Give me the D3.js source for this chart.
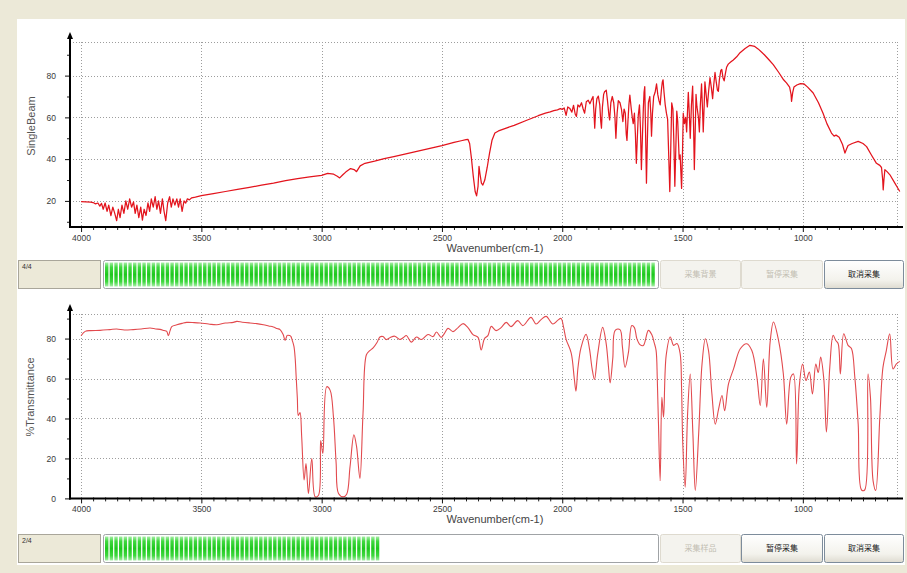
<!DOCTYPE html>
<html>
<head>
<meta charset="utf-8">
<script src="https://cdn.jsdelivr.net/npm/d3@7/dist/d3.min.js"></script>
<style>
  html, body { margin: 0; padding: 0; background: #ece9d8; }
  svg { display: block; }
</style>
</head>
<body>
<svg id="chart" width="907" height="573"></svg>
<script>
// ---- data ----------------------------------------------------------------
const wavenumberTicks = [4000, 3500, 3000, 2500, 2000, 1500, 1000];
const singleBeamTicks = [20, 40, 60, 80];
const transmittanceTicks = [0, 20, 40, 60, 80];

// background single-beam spectrum: [wavenumber, value]
const singleBeam = [
  [4000,19.6],[3980,19.5],[3960,19.4],[3950,19.2],[3940,18.6],[3930,19],[3922,17.5],[3915,18.8],
  [3908,16],[3900,19],[3892,15],[3885,18],[3876,13],[3868,17],[3860,14],[3852,10.5],[3845,16],
  [3838,12],[3830,18],[3822,14],[3814,20],[3806,16],[3798,21],[3790,17],[3782,19.5],[3775,14],
  [3768,18],[3760,12],[3752,17],[3745,10.8],[3738,16],[3730,13],[3722,19],[3715,15],[3708,21],
  [3700,17],[3692,22],[3685,16],[3678,20],[3670,14],[3662,21],[3655,15],[3648,10.5],[3640,19],
  [3632,22],[3625,17],[3618,21],[3610,18],[3602,21],[3595,17],[3588,21],[3580,15],[3572,20],
  [3565,19],[3558,21],[3550,20.5],[3540,21.5],[3525,21.8],[3500,22.5],[3450,23.5],[3400,24.5],
  [3350,25.5],[3300,26.5],[3250,27.5],[3200,28.5],[3150,29.7],[3100,30.7],[3050,31.5],[3000,32.2],
  [2975,33.2],[2950,32.8],[2935,31.8],[2925,31],[2912,32.5],[2900,33.8],[2880,35.5],[2865,35],
  [2855,34],[2840,36.8],[2820,38],[2780,39],[2740,40.2],[2700,41.2],[2650,42.5],[2600,43.8],
  [2550,45.2],[2500,46.5],[2450,48],[2420,48.8],[2400,49.3],[2392,49.5],[2385,47.5],[2378,41],
  [2370,32],[2362,24.5],[2356,22.4],[2350,27],[2346,36.5],[2342,33],[2336,28.5],[2330,27.6],
  [2322,30],[2312,36],[2302,43],[2292,49],[2280,52.5],[2265,53.5],[2230,55],[2200,56.2],
  [2150,58.5],[2100,60.8],[2070,62],[2050,62.6],[2035,63.2],[2020,63.6],[2008,64.2],[2000,63.8],
  [1992,64.5],[1984,61],[1977,65],[1968,64.2],[1960,62.5],[1953,65.8],[1946,61.5],[1941,60.5],
  [1935,66],[1928,65],[1920,67],[1913,64],[1907,62],[1900,67.5],[1892,68.2],[1885,66.5],
  [1878,68.5],[1872,70],[1868,62],[1865,54.8],[1861,64],[1856,69],[1850,70.2],[1844,66],
  [1840,58],[1837,54.8],[1833,65],[1828,71],[1824,72.3],[1817,73],[1812,68],[1806,61],
  [1803,58.8],[1798,67],[1792,70],[1786,67],[1781,60],[1777,50],[1772,62],[1767,68],[1760,67],
  [1754,64],[1748,58],[1743,64],[1738,62],[1734,52],[1731,49],[1727,58],[1723,66],[1719,70.7],
  [1714,65],[1709,60],[1705,57],[1700,62],[1696,52],[1692,38],[1688,50],[1684,61],[1679,66],
  [1675,55],[1671,35],[1667,50],[1663,64],[1660,72],[1657,74.7],[1654,55],[1650,28.5],[1646,50],
  [1642,67],[1636,70],[1632,62],[1629,51],[1625,62],[1620,70],[1614,72],[1608,76],[1603,71],
  [1598,68],[1593,66],[1588,73],[1584,77],[1581,78],[1577,72],[1572,66],[1567,62],[1562,59],
  [1557,40],[1553,24.5],[1549,45],[1545,67],[1540,64],[1536,48],[1532,27],[1528,45],[1524,63],
  [1520,58],[1514,40],[1510,42],[1507,34],[1504,26],[1500,44],[1497,62],[1492,57],[1487,60],
  [1483,53],[1479,64],[1476,72],[1472,62],[1468,50],[1463,66],[1458,75],[1454,55],[1451,35],
  [1447,55],[1444,71],[1440,65],[1434,60],[1430,53],[1426,66],[1421,76],[1417,64],[1414,53],
  [1410,66],[1407,77],[1402,71],[1397,65],[1392,72],[1386,79],[1380,74],[1375,69],[1370,76],
  [1365,81.5],[1360,77],[1355,73],[1351,72.5],[1347,78],[1341,82.5],[1337,83],[1332,79],
  [1327,77.5],[1322,81],[1317,84],[1310,85.5],[1300,86.5],[1289,87.5],[1275,89],[1261,91],
  [1240,93],[1220,94.5],[1200,94],[1186,92.8],[1160,90],[1140,87.5],[1123,85.3],[1100,81.5],
  [1080,78],[1068,76.5],[1055,74.5],[1049,71],[1047,67.7],[1042,72],[1037,74.5],[1025,75.5],
  [1010,76.2],[995,76],[980,74.5],[957,71.7],[935,67],[916,62],[900,57],[881,52.5],[870,51],
  [862,51.5],[849,50.5],[835,47],[825,42.9],[818,45],[812,46.5],[795,47.5],[770,48.5],[750,47.5],
  [735,46],[715,42],[694,38],[680,37],[673,36],[668,30],[666,25.3],[663,30],[659,35],[650,34],
  [638,32.5],[620,29],[610,27],[597,24.5]
];

// sample transmittance spectrum: [wavenumber, %T]
const transmittance = [
  [4000,81.4],[3983,83.6],[3960,84],[3921,84.1],[3880,84.5],[3852,84.8],[3820,84.3],[3783,84.5],
  [3750,84.8],[3713,85.3],[3690,84.8],[3672,84.6],[3655,84],[3644,83.6],[3637,81.4],[3630,84],
  [3623,86],[3602,86.9],[3580,87.6],[3561,88.1],[3530,88],[3505,87.8],[3470,87.3],[3436,86.9],
  [3400,87.8],[3367,88.1],[3353,88.6],[3330,88.2],[3298,87.8],[3270,87.5],[3242,86.9],[3220,86.3],
  [3201,85.8],[3185,85],[3173,84.5],[3160,82],[3152,79.1],[3147,80.5],[3143,81.6],[3133,81.5],
  [3128,81.1],[3122,79],[3115,76],[3110,70],[3106,61],[3101,50],[3097,41.5],[3090,43],
  [3083,30.9],[3073,9.2],[3065,17.5],[3055,2.5],[3041,20],[3027,0.8],[3013,1.6],[3004,29],
  [2995,22.5],[2979,55.9],[2965,54.2],[2951,40.8],[2940,18],[2930,2.5],[2910,0.8],[2896,2.1],
  [2882,15.9],[2866,31.8],[2855,26],[2841,10],[2828,42.7],[2814,71.9],[2800,74],[2786,75.3],
  [2770,78],[2758,80.8],[2745,81],[2731,79.5],[2715,80.5],[2696,81.2],[2675,79.5],[2660,80.5],
  [2648,81.5],[2627,78.2],[2606,80.8],[2586,79.5],[2558,82],[2537,81],[2523,83.3],[2503,80.6],
  [2490,82.5],[2475,85.1],[2454,83.5],[2433,85.5],[2412,87.5],[2392,85.5],[2371,82],[2350,80.6],
  [2337,74.3],[2323,80],[2309,81.5],[2295,86.1],[2275,84],[2254,85.5],[2233,88.1],[2213,86],
  [2185,89],[2164,86.5],[2130,90.6],[2109,87.3],[2088,89.5],[2067,91.1],[2039,87.3],[2020,89],
  [2005,90.1],[1995,86],[1984,79.6],[1963,72.9],[1950,60],[1943,53.7],[1935,65],[1922,75.5],
  [1901,82.1],[1887,75],[1876,65],[1866,59.5],[1853,72],[1832,85.6],[1818,78],[1808,66],
  [1801,57.8],[1790,70],[1780,84.1],[1760,84.5],[1750,76],[1739,65.6],[1725,73],[1711,86.5],
  [1700,85.5],[1690,80],[1677,77],[1663,76.5],[1642,84.1],[1628,82],[1618,78],[1610,74.1],
  [1605,60],[1600,37.2],[1593,8.8],[1586,50.6],[1579,40.6],[1568,71.6],[1551,80.8],[1537,76.6],
  [1523,77.5],[1510,72.5],[1504,55],[1499,27.4],[1489,5.6],[1479,42.3],[1468,62.3],[1457,32.4],
  [1447,4],[1433,32.4],[1419,67.3],[1405,79.9],[1392,74],[1378,52.3],[1364,37.2],[1350,44.8],
  [1336,51.5],[1325,43.9],[1309,57.3],[1288,64.8],[1260,74.9],[1233,77.4],[1212,74],[1191,60.7],
  [1177,46.5],[1164,69.9],[1150,45.6],[1136,78.2],[1122,88.3],[1101,79.1],[1081,62.3],[1067,37.2],
  [1050,60.7],[1039,62.3],[1026,17.2],[1015,55.7],[1001,67.3],[987,59],[973,63.2],[960,52.3],
  [946,67.3],[936,63],[926,70.7],[913,60],[902,33.2],[888,65.6],[874,81.6],[863,79],[853,77.4],
  [844,62.3],[830,82.4],[812,76.6],[798,75],[784,60.7],[770,37.2],[756,4.2],[743,4.2],[729,62.3],
  [719,50.6],[708,8.8],[697,4],[680,40.6],[667,65.6],[653,74],[639,82.4],[625,64.8],[611,67.3],
  [597,68.6]
];

// scan status rows
const scanLabels = ["4/4", "2/4"];
const scanProgress = [1.0, 0.5];
const backgroundButtons = ["采集背景", "暂停采集", "取消采集"];
const backgroundButtonsEnabled = [false, false, true];
const sampleButtons = ["采集样品", "暂停采集", "取消采集"];
const sampleButtonsEnabled = [false, true, true];

// ---- drawing -------------------------------------------------------------
const svg = d3.select("#chart");
const LATIN = "'Liberation Sans', Arial, sans-serif";
const CJK = "'Noto Sans CJK SC', sans-serif";

const defs = svg.append("defs");
const gGreen = defs.append("linearGradient").attr("id", "greenBlock")
  .attr("x1", 0).attr("y1", 0).attr("x2", 0).attr("y2", 1);
[[0, "#a8eea8"], [0.2, "#3fd83f"], [0.5, "#1ec81e"], [0.8, "#3fd83f"], [1, "#a8eea8"]]
  .forEach(([o, c]) => gGreen.append("stop").attr("offset", o).attr("stop-color", c));
const gBtn = defs.append("linearGradient").attr("id", "btnFace")
  .attr("x1", 0).attr("y1", 0).attr("x2", 0).attr("y2", 1);
[[0, "#ffffff"], [0.7, "#f3f2ec"], [1, "#dedbd0"]]
  .forEach(([o, c]) => gBtn.append("stop").attr("offset", o).attr("stop-color", c));

// window body
svg.append("rect").attr("x", 0).attr("y", 0).attr("width", 907).attr("height", 573).attr("fill", "#ece9d8");
svg.append("rect").attr("x", 17).attr("y", 19).attr("width", 888).attr("height", 546).attr("fill", "#ffffff");

const plotLeft = 70, plotRight = 897, axisRight = 903;
const x = d3.scaleLinear().domain([4046, 592]).range([plotLeft, 901]);

function drawSpectrum(cfg) {
  const g = svg.append("g");
  const y = d3.scaleLinear().domain(cfg.yDomain).range([cfg.axisY, cfg.plotTop]);

  // dotted grid + frame
  const grid = g.append("g").attr("stroke", "#9d9d9d").attr("stroke-width", 1)
    .attr("stroke-dasharray", "1,2").attr("fill", "none");
  wavenumberTicks.forEach(w => {
    grid.append("line").attr("x1", Math.round(x(w)) + 0.5).attr("x2", Math.round(x(w)) + 0.5)
      .attr("y1", cfg.plotTop).attr("y2", cfg.axisY);
  });
  cfg.ticks.filter(v => v > cfg.yDomain[0]).forEach(v => {
    grid.append("line").attr("x1", plotLeft).attr("x2", plotRight)
      .attr("y1", Math.round(y(v)) + 0.5).attr("y2", Math.round(y(v)) + 0.5);
  });
  grid.append("line").attr("x1", plotLeft).attr("x2", plotRight)
    .attr("y1", cfg.plotTop + 0.5).attr("y2", cfg.plotTop + 0.5);
  grid.append("line").attr("x1", plotRight + 0.5).attr("x2", plotRight + 0.5)
    .attr("y1", cfg.plotTop).attr("y2", cfg.axisY);

  // spectrum
  const line = d3.line().x(d => x(d[0])).y(d => y(d[1])).curve(cfg.curve);
  g.append("path").datum(cfg.data).attr("d", line)
    .attr("fill", "none").attr("stroke", cfg.color).attr("stroke-width", cfg.width)
    .attr("stroke-linejoin", "round");

  // x axis: minor ticks then major ticks with labels
  const minor = d3.range(650, 4001, 50).filter(w => !wavenumberTicks.includes(w));
  const xMinor = g.append("g").attr("transform", `translate(0,${cfg.axisY})`)
    .call(d3.axisBottom(x).tickValues(minor).tickSize(3).tickSizeOuter(0).tickFormat(""));
  xMinor.select(".domain").remove();
  xMinor.selectAll("line").attr("stroke", "#222").attr("y1", -1);
  const xAxis = g.append("g").attr("transform", `translate(0,${cfg.axisY})`)
    .call(d3.axisBottom(x).tickValues(wavenumberTicks).tickSize(5).tickSizeOuter(0).tickPadding(3)
      .tickFormat(d3.format("d")));
  xAxis.select(".domain").remove();
  xAxis.selectAll("line").attr("stroke", "#111");
  xAxis.selectAll("text").attr("font-family", LATIN).attr("font-size", 8.5).attr("fill", "#3a3a3a");
  g.append("line").attr("x1", plotLeft - 1).attr("x2", axisRight)
    .attr("y1", cfg.axisY).attr("y2", cfg.axisY).attr("stroke", "#000").attr("stroke-width", 2);

  // y axis
  const yMinorVals = d3.range(10, cfg.yDomain[1], 20).filter(v => v > cfg.yDomain[0]);
  const yMinor = g.append("g").attr("transform", `translate(${plotLeft},0)`)
    .call(d3.axisLeft(y).tickValues(yMinorVals).tickSize(3).tickSizeOuter(0).tickFormat(""));
  yMinor.select(".domain").remove();
  yMinor.selectAll("line").attr("stroke", "#222");
  const yAxis = g.append("g").attr("transform", `translate(${plotLeft},0)`)
    .call(d3.axisLeft(y).tickValues(cfg.ticks).tickSize(5).tickSizeOuter(0).tickPadding(9)
      .tickFormat(d3.format("d")));
  yAxis.select(".domain").remove();
  yAxis.selectAll("line").attr("stroke", "#111");
  yAxis.selectAll("text").attr("font-family", LATIN).attr("font-size", 8.5).attr("fill", "#3a3a3a");
  g.append("line").attr("x1", plotLeft).attr("x2", plotLeft)
    .attr("y1", cfg.plotTop - 5).attr("y2", cfg.axisY + 1).attr("stroke", "#000").attr("stroke-width", 2);
  g.append("path")
    .attr("d", `M${plotLeft},${cfg.plotTop - 10} L${plotLeft - 3},${cfg.plotTop - 3} L${plotLeft + 3},${cfg.plotTop - 3} Z`)
    .attr("fill", "#000");

  // axis titles
  g.append("text").attr("x", 495).attr("y", cfg.axisY + 22).attr("text-anchor", "middle")
    .attr("dominant-baseline", "middle")
    .attr("font-family", LATIN).attr("font-size", 11).attr("fill", "#444").text("Wavenumber(cm-1)");
  g.append("text").attr("transform", `translate(${cfg.titleX},${cfg.titleY}) rotate(-90)`)
    .attr("text-anchor", "middle").attr("dominant-baseline", "middle")
    .attr("font-family", LATIN).attr("font-size", 11).attr("fill", "#555").text(cfg.title);
}

drawSpectrum({
  data: singleBeam, ticks: singleBeamTicks, yDomain: [7.5, 96.1],
  axisY: 227, plotTop: 42, color: "#e3141d", width: 1.25, curve: d3.curveLinear,
  title: "SingleBeam", titleX: 32, titleY: 126
});
drawSpectrum({
  data: transmittance, ticks: transmittanceTicks, yDomain: [0, 92.3],
  axisY: 498.4, plotTop: 314, color: "#e24a4e", width: 1.1, curve: d3.curveCatmullRom.alpha(0.5),
  title: "%Transmittance", titleX: 31, titleY: 397
});

// scan status rows: counter, progress bar, buttons
function drawStatusRow(top, label, progress, buttons, enabled) {
  const h = 28;
  const g = svg.append("g");
  g.append("rect").attr("x", 18.5).attr("y", top + 0.5).attr("width", 82).attr("height", h)
    .attr("fill", "#ece9d8").attr("stroke", "#a9a69a");
  g.append("text").attr("x", 22).attr("y", top + 9).attr("font-family", LATIN)
    .attr("font-size", 7).attr("fill", "#333").text(label);

  const barX = 103, barW = 555;
  g.append("rect").attr("x", barX + 0.5).attr("y", top + 0.5).attr("width", barW).attr("height", h)
    .attr("rx", 2).attr("fill", "#ffffff").attr("stroke", "#a0a3a6");
  const p = d3.scaleLinear().domain([0, 1]).range([barX + 2, barX + barW - 1]);
  const period = 4.67, blockW = 3.4;
  const blocks = d3.range(p(0), p(progress) - blockW + 0.01, period);
  g.selectAll(null).data(blocks).join("rect")
    .attr("x", d => d).attr("y", top + 2.5).attr("width", blockW).attr("height", h - 4)
    .attr("fill", "url(#greenBlock)");

  const bx = [660, 741, 824], bw = [80, 81, 79];
  buttons.forEach((t, i) => {
    const on = enabled[i];
    g.append("rect").attr("x", bx[i] + 0.5).attr("y", top + 0.5).attr("width", bw[i]).attr("height", h)
      .attr("rx", 2)
      .attr("fill", on ? "url(#btnFace)" : "#f4f3ee")
      .attr("stroke", on ? "#7d8c9b" : "#dedacf");
    g.append("text").attr("x", bx[i] + bw[i] / 2 + 0.5).attr("y", top + h / 2 + 1)
      .attr("text-anchor", "middle").attr("dominant-baseline", "middle")
      .attr("font-family", CJK).attr("font-size", 8)
      .attr("fill", on ? "#1a1a1a" : "#c2beb2").text(t);
  });
}

drawStatusRow(260, scanLabels[0], scanProgress[0], backgroundButtons, backgroundButtonsEnabled);
drawStatusRow(534, scanLabels[1], scanProgress[1], sampleButtons, sampleButtonsEnabled);
</script>
</body>
</html>
